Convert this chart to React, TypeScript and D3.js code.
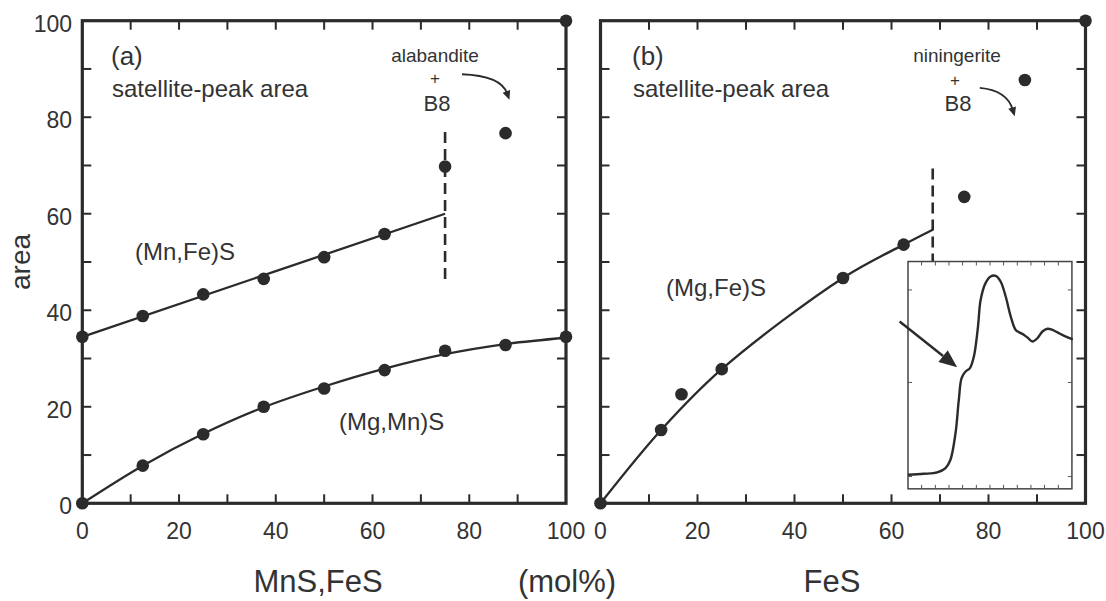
import React from "react";
import * as d3 from "d3";

const W = 1106;
const H = 601;

// ---------- shared axis ticks ----------
const xTickLabels = [0, 20, 40, 60, 80, 100];
const minorTicks = [10, 20, 30, 40, 50, 60, 70, 80, 90];
const yTickLabels = [0, 20, 40, 60, 80, 100];

// ---------- panel (a): satellite-peak area vs MnS,FeS ----------
const mnFeX = [0, 12.5, 25, 37.5, 50, 62.5];
const mnFeY = [34.5, 38.8, 43.3, 46.5, 51.0, 55.8];
const mnFeFitX = [0, 75];
const mnFeFitY = [34.5, 60.0];
const mgMnX = [0, 12.5, 25, 37.5, 50, 62.5, 75, 87.5, 100];
const mgMnY = [0, 7.8, 14.3, 20.0, 23.8, 27.6, 31.6, 32.8, 34.5];
const mgMnFitX = [0, 12.5, 25, 37.5, 50, 62.5, 75, 87.5, 100];
const mgMnFitY = [0, 7.8, 14.4, 19.9, 24.2, 27.9, 30.9, 33.0, 34.3];
const aB8X = [75, 87.5, 100];
const aB8Y = [69.8, 76.7, 100];
const aBoundaryX = 75;
const aBoundaryY = [46.5, 78];

// ---------- panel (b): satellite-peak area vs FeS ----------
const mgFeX = [0, 12.5, 16.7, 25, 50, 62.5];
const mgFeY = [0, 15.2, 22.6, 27.8, 46.7, 53.6];
const mgFeFitX = [0, 12.5, 25, 50, 62.5, 68.5];
const mgFeFitY = [0, 15.2, 27.8, 46.7, 53.6, 56.7];
const bB8X = [75, 87.5, 100];
const bB8Y = [63.5, 87.7, 100];
const bBoundaryX = 68.5;
const bBoundaryY = [49.5, 69.5];

// ---------- inset spectrum (normalised 0-100) ----------
const specX = [0, 9.6, 17.8, 22.9, 25.9, 29.0, 31.0, 32.7, 35.1, 37.8, 40.2, 42.7, 44.3, 47.3, 50.4, 53.5, 56.5, 59.6, 62.7, 65.7, 68.8, 70.8, 73.3, 75.9, 79.0, 82.0, 85.1, 88.2, 91.2, 95.3, 100.5];
const specY = [6.2, 6.6, 7.2, 9.1, 12.8, 24.5, 39.1, 48.7, 51.6, 53.1, 58.2, 71.4, 83.1, 90.5, 93.4, 93.7, 91.2, 84.6, 75.8, 69.9, 68.5, 67.7, 66.3, 64.8, 66.3, 69.2, 70.4, 69.9, 68.8, 67.3, 65.8];
const insetTicksX = [8.3, 16.7, 25, 33.3, 41.7, 50, 58.3, 66.7, 75, 83.3, 91.7];
const insetTicksY = [5.4, 46.8, 87.5];

const FONT = "'Liberation Sans', Arial, Helvetica, sans-serif";
const INK = "#2b2b2b";
const TXT = "#333333";

const zip = (xs: number[], ys: number[]) => xs.map((x, i) => [x, ys[i]] as [number, number]);

function Panel({ x, y, children }: any) {
  const [x0, x1] = x.range();
  const [y0, y1] = y.range();
  const T = 9;
  return (
    <g>
      {minorTicks.map((t) => (
        <g key={t} stroke={INK} strokeWidth={2}>
          <line x1={x(t)} x2={x(t)} y1={y0} y2={y0 - T} />
          <line x1={x(t)} x2={x(t)} y1={y1} y2={y1 + T} />
          <line x1={x0} x2={x0 + T} y1={y(t)} y2={y(t)} />
          <line x1={x1} x2={x1 - T} y1={y(t)} y2={y(t)} />
        </g>
      ))}
      <rect x={x0} y={y1} width={x1 - x0} height={y0 - y1} fill="none" stroke={INK} strokeWidth={3.2} />
      {children}
    </g>
  );
}

function Dots({ x, y, xs, ys }: any) {
  return (
    <g fill={INK}>
      {xs.map((v: number, i: number) => (
        <circle key={i} cx={x(v)} cy={y(ys[i])} r={6.3} />
      ))}
    </g>
  );
}

function CurvedArrow({ x, y, p0, c, p1 }: any) {
  const a = [x(p0[0]), y(p0[1])];
  const b = [x(c[0]), y(c[1])];
  const e = [x(p1[0]), y(p1[1])];
  const ang = Math.atan2(e[1] - b[1], e[0] - b[0]);
  const L = 9, Wd = 4;
  const back = [e[0] - L * Math.cos(ang), e[1] - L * Math.sin(ang)];
  const nx = -Math.sin(ang), ny = Math.cos(ang);
  const head = `M${e[0]},${e[1]} L${back[0] + nx * Wd},${back[1] + ny * Wd} L${back[0] - nx * Wd},${back[1] - ny * Wd} Z`;
  const endLine = [e[0] - (L - 2) * Math.cos(ang), e[1] - (L - 2) * Math.sin(ang)];
  return (
    <g>
      <path d={`M${a[0]},${a[1]} Q${b[0]},${b[1]} ${endLine[0]},${endLine[1]}`} fill="none" stroke={INK} strokeWidth={1.8} />
      <path d={head} fill={INK} />
    </g>
  );
}

export default function App() {
  const y = d3.scaleLinear().domain([0, 100]).range([503.3, 20.7]);
  const xA = d3.scaleLinear().domain([0, 100]).range([82.3, 566]);
  const xB = d3.scaleLinear().domain([0, 100]).range([600.5, 1085.5]);

  const lineA = d3.line<[number, number]>().x((d) => xA(d[0])).y((d) => y(d[1]));
  const curveA = d3.line<[number, number]>().x((d) => xA(d[0])).y((d) => y(d[1])).curve(d3.curveCatmullRom.alpha(0.5));
  const curveB = d3.line<[number, number]>().x((d) => xB(d[0])).y((d) => y(d[1])).curve(d3.curveCatmullRom.alpha(0.5));

  // inset scales, placed in panel (b) data coordinates
  const ix = d3.scaleLinear().domain([0, 100]).range([xB(63.4), xB(97.2)]);
  const iy = d3.scaleLinear().domain([0, 100]).range([y(3.0), y(50.1)]);
  const spec = d3.line<[number, number]>().x((d) => ix(d[0])).y((d) => iy(d[1])).curve(d3.curveCatmullRom.alpha(0.5));

  // inset arrow
  const ia0 = [ix(-5.1), iy(73.6)];
  const ia1 = [ix(30), iy(53.5)];
  const iang = Math.atan2(ia1[1] - ia0[1], ia1[0] - ia0[0]);
  const HL = 18, HW = 7.5;
  const ib = [ia1[0] - HL * Math.cos(iang), ia1[1] - HL * Math.sin(iang)];
  const inx = -Math.sin(iang), iny = Math.cos(iang);

  return (
    <svg width={W} height={H} style={{ position: "absolute", left: 0, top: 0, background: "#fff" }} fontFamily={FONT}>
      <rect width={W} height={H} fill="#fff" />

      {/* ---------- Panel (a) ---------- */}
      <Panel x={xA} y={y}>
        <path d={lineA(zip(mnFeFitX, mnFeFitY)) || ""} fill="none" stroke={INK} strokeWidth={2.3} />
        <path d={curveA(zip(mgMnFitX, mgMnFitY)) || ""} fill="none" stroke={INK} strokeWidth={2.3} />
        <line x1={xA(aBoundaryX)} x2={xA(aBoundaryX)} y1={y(aBoundaryY[0])} y2={y(aBoundaryY[1])} stroke={INK} strokeWidth={2.6} strokeDasharray="11,6" />
        <Dots x={xA} y={y} xs={mnFeX} ys={mnFeY} />
        <Dots x={xA} y={y} xs={mgMnX} ys={mgMnY} />
        <Dots x={xA} y={y} xs={aB8X} ys={aB8Y} />
        <CurvedArrow x={xA} y={y} p0={[78.5, 88.9]} c={[86.5, 88.6]} p1={[88.3, 83.6]} />
      </Panel>

      {/* ---------- Panel (b) ---------- */}
      <Panel x={xB} y={y}>
        <path d={curveB(zip(mgFeFitX, mgFeFitY)) || ""} fill="none" stroke={INK} strokeWidth={2.3} />
        <line x1={xB(bBoundaryX)} x2={xB(bBoundaryX)} y1={y(bBoundaryY[0])} y2={y(bBoundaryY[1])} stroke={INK} strokeWidth={2.6} strokeDasharray="11,6" />
        <Dots x={xB} y={y} xs={mgFeX} ys={mgFeY} />
        <Dots x={xB} y={y} xs={bB8X} ys={bB8Y} />
        <CurvedArrow x={xB} y={y} p0={[78.2, 86.1]} c={[83.8, 85.6]} p1={[85.4, 80.2]} />

        {/* inset */}
        <rect x={ix(0)} y={iy(100)} width={ix(100) - ix(0)} height={iy(0) - iy(100)} fill="#fff" stroke="#444" strokeWidth={1.5} />
        {insetTicksX.map((t) => (
          <g key={"ix" + t} stroke="#555" strokeWidth={1}>
            <line x1={ix(t)} x2={ix(t)} y1={iy(0)} y2={iy(0) - 4} />
            <line x1={ix(t)} x2={ix(t)} y1={iy(100)} y2={iy(100) + 4} />
          </g>
        ))}
        {insetTicksY.map((t) => (
          <g key={"iy" + t} stroke="#555" strokeWidth={1}>
            <line x1={ix(0)} x2={ix(0) + 4} y1={iy(t)} y2={iy(t)} />
            <line x1={ix(100)} x2={ix(100) - 4} y1={iy(t)} y2={iy(t)} />
          </g>
        ))}
        <path d={spec(zip(specX, specY)) || ""} fill="none" stroke={INK} strokeWidth={2.4} />
        <line x1={ia0[0]} y1={ia0[1]} x2={ib[0]} y2={ib[1]} stroke={INK} strokeWidth={2.4} />
        <path d={`M${ia1[0]},${ia1[1]} L${ib[0] + inx * HW},${ib[1] + iny * HW} L${ib[0] - inx * HW},${ib[1] - iny * HW} Z`} fill={INK} />
      </Panel>

      {/* ---------- tick labels ---------- */}
      <g fill={TXT} fontSize={23}>
        {yTickLabels.map((t) => (
          <text key={"yl" + t} x={72} y={y(t) + 11} textAnchor="end">{t}</text>
        ))}
        {xTickLabels.map((t) => (
          <text key={"xa" + t} x={xA(t)} y={539} textAnchor="middle">{t}</text>
        ))}
        {xTickLabels.map((t) => (
          <text key={"xb" + t} x={xB(t)} y={539} textAnchor="middle">{t}</text>
        ))}
      </g>

      {/* ---------- axis titles ---------- */}
      <g fill={TXT}>
        <text transform="translate(30,262) rotate(-90)" textAnchor="middle" fontSize={28}>area</text>
        <text x={318} y={592} textAnchor="middle" fontSize={31}>MnS,FeS</text>
        <text x={567} y={592} textAnchor="middle" fontSize={31}>(mol%)</text>
        <text x={832} y={592} textAnchor="middle" fontSize={31}>FeS</text>
      </g>

      {/* ---------- annotations ---------- */}
      <g fill={TXT}>
        <text x={111} y={65} fontSize={26}>(a)</text>
        <text x={112} y={97} fontSize={24}>satellite-peak area</text>
        <text x={435} y={62} fontSize={19} textAnchor="middle">alabandite</text>
        <text x={435} y={84} fontSize={17} textAnchor="middle">+</text>
        <text x={437} y={111} fontSize={22} textAnchor="middle">B8</text>
        <text x={135} y={260} fontSize={24}>(Mn,Fe)S</text>
        <text x={339} y={430} fontSize={24}>(Mg,Mn)S</text>

        <text x={632} y={65} fontSize={26}>(b)</text>
        <text x={633} y={97} fontSize={24}>satellite-peak area</text>
        <text x={957} y={62} fontSize={19} textAnchor="middle">niningerite</text>
        <text x={955} y={86} fontSize={17} textAnchor="middle">+</text>
        <text x={958} y={111} fontSize={22} textAnchor="middle">B8</text>
        <text x={666} y={296} fontSize={24}>(Mg,Fe)S</text>
      </g>
    </svg>
  );
}
